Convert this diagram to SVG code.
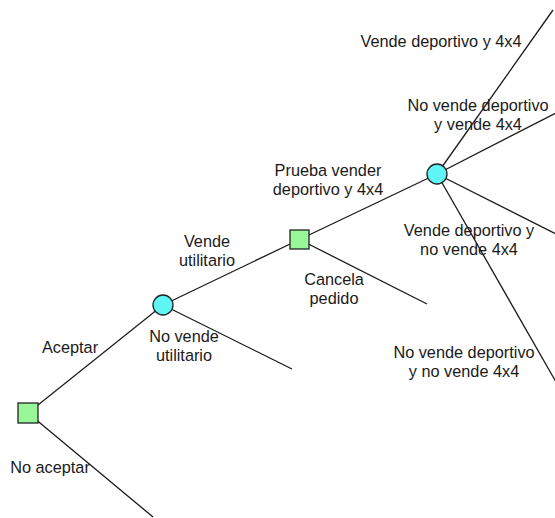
<svg xmlns="http://www.w3.org/2000/svg" width="555" height="518" viewBox="0 0 555 518">
<style>
.e{stroke:#1a1a1a;stroke-width:1.3;fill:none}
.d{fill:#99F799;stroke:#222;stroke-width:1.3}
.c{fill:#5FF5F5;stroke:#222;stroke-width:1.3}
text{font-family:"Liberation Sans",Arial,sans-serif;font-size:16.3px;fill:#1a1a1a;text-anchor:middle}
</style>
<rect width="555" height="518" fill="#fff"/>
<g id="connectors">
<line class="e" x1="28" y1="413" x2="163" y2="305"/>
<line class="e" x1="28" y1="413" x2="153" y2="517"/>
<line class="e" x1="163" y1="305" x2="299.5" y2="239.5"/>
<line class="e" x1="163" y1="305" x2="292" y2="369"/>
<line class="e" x1="299.5" y1="239.5" x2="437" y2="174"/>
<line class="e" x1="299.5" y1="239.5" x2="427" y2="304"/>
<line class="e" x1="437" y1="174" x2="553" y2="10"/>
<line class="e" x1="437" y1="174" x2="556" y2="113"/>
<line class="e" x1="437" y1="174" x2="556" y2="234"/>
<line class="e" x1="437" y1="174" x2="556" y2="382"/>
</g>
<g id="labels">
<text x="70" y="353">Aceptar</text>
<text x="50" y="473">No aceptar</text>
<text x="207" y="247">Vende</text>
<text x="207" y="266">utilitario</text>
<text x="184" y="342">No vende</text>
<text x="184" y="361">utilitario</text>
<text x="328" y="176">Prueba vender</text>
<text x="328" y="195">deportivo y 4x4</text>
<text x="334" y="285">Cancela</text>
<text x="334" y="304">pedido</text>
<text x="441" y="47">Vende deportivo y 4x4</text>
<text x="478" y="111">No vende deportivo</text>
<text x="478" y="130">y vende 4x4</text>
<text x="469" y="236">Vende deportivo y</text>
<text x="469" y="255">no vende 4x4</text>
<text x="464" y="358">No vende deportivo</text>
<text x="464" y="377">y no vende 4x4</text>
</g>
<g id="decision1"><rect class="d" x="18" y="403" width="20" height="20"/></g>
<g id="chance1"><circle class="c" cx="163" cy="305" r="10"/></g>
<g id="decision2"><rect class="d" x="290" y="230" width="19" height="19"/></g>
<g id="chance2"><circle class="c" cx="437" cy="174" r="10"/></g>
</svg>
